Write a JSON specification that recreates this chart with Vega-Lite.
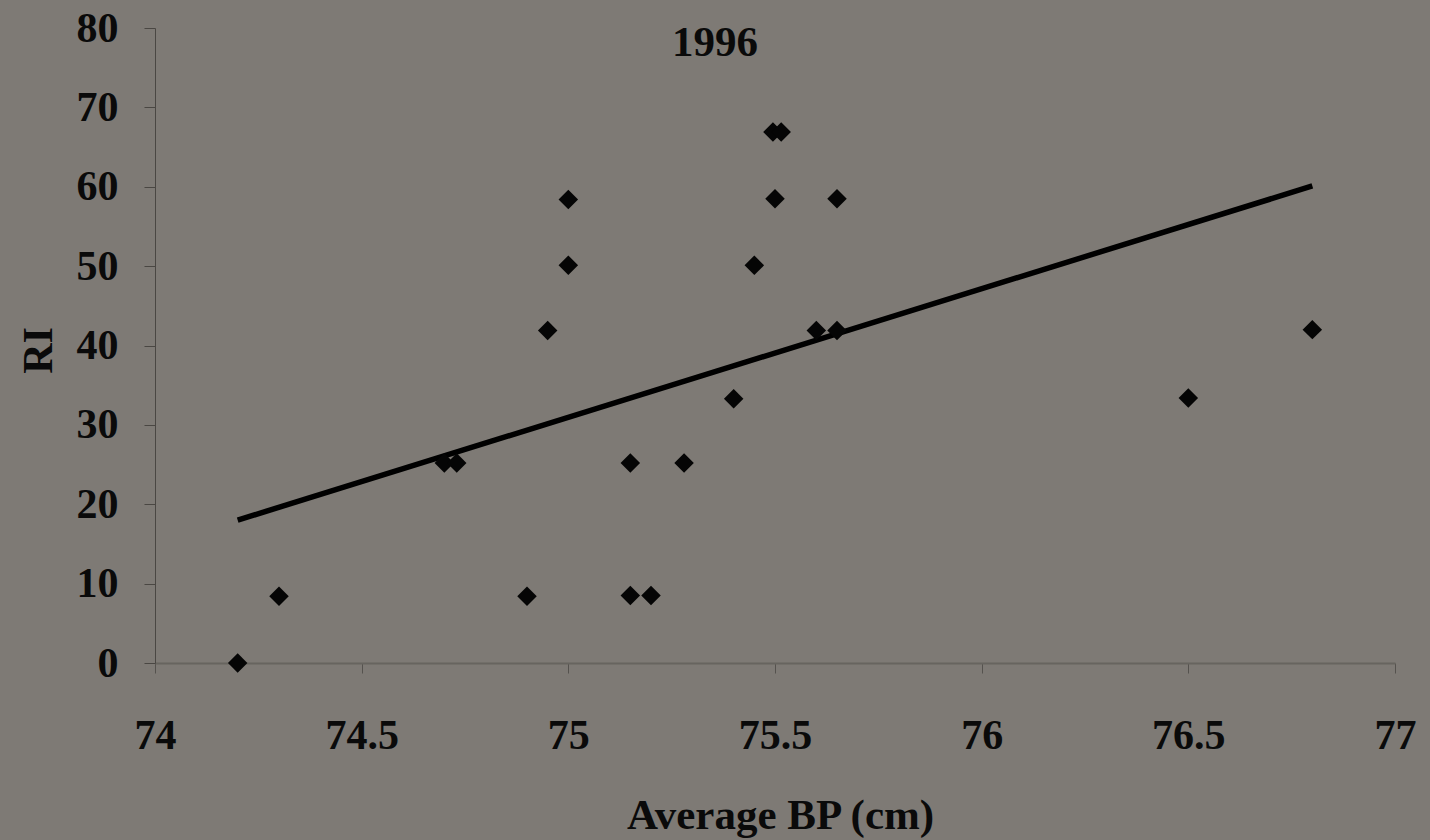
{
  "$schema": "https://vega.github.io/schema/vega-lite/v6.json",
  "width": 1240,
  "height": 635,
  "autosize": {"type": "none"},
  "padding": {"left": 155, "top": 28, "right": 35, "bottom": 177},
  "background": "#7e7a75",
  "config": {
    "view": {"stroke": null},
    "font": "Liberation Serif",
    "axis": {"grid": false}
  },
  "title": {
    "text": "1996",
    "font": "Liberation Serif",
    "fontSize": 43,
    "fontWeight": "bold",
    "color": "#0a0a0a",
    "anchor": "middle",
    "dx": -60,
    "offset": -58,
    "baseline": "top"
  },
  "datasets": {
    "points": [
      {"bp": 74.2, "ri": 0},
      {"bp": 74.3, "ri": 8.4},
      {"bp": 74.7, "ri": 25.2},
      {"bp": 74.73, "ri": 25.2},
      {"bp": 74.9, "ri": 8.4},
      {"bp": 74.95, "ri": 41.9},
      {"bp": 75.0, "ri": 58.4},
      {"bp": 75.0, "ri": 50.1},
      {"bp": 75.15, "ri": 25.2},
      {"bp": 75.15, "ri": 8.5},
      {"bp": 75.2, "ri": 8.5},
      {"bp": 75.28, "ri": 25.2},
      {"bp": 75.4, "ri": 33.3},
      {"bp": 75.45, "ri": 50.1},
      {"bp": 75.495, "ri": 66.9},
      {"bp": 75.515, "ri": 66.9},
      {"bp": 75.5, "ri": 58.5},
      {"bp": 75.6, "ri": 41.9},
      {"bp": 75.65, "ri": 41.9},
      {"bp": 75.65, "ri": 58.5},
      {"bp": 76.5, "ri": 33.4},
      {"bp": 76.8, "ri": 42.0}
    ],
    "trend": [
      {"bp": 74.2, "ri": 18.0},
      {"bp": 76.8, "ri": 60.1}
    ]
  },
  "layer": [
    {
      "data": {"name": "trend"},
      "mark": {"type": "line", "color": "#000000", "strokeWidth": 5.5},
      "encoding": {
        "x": {
          "field": "bp", "type": "quantitative",
          "scale": {"domain": [74, 77], "zero": false, "nice": false},
          "axis": {
            "values": [74, 74.5, 75, 75.5, 76, 76.5, 77],
            "format": "~g",
            "title": "Average BP (cm)",
            "titleFont": "Liberation Serif",
            "titleFontSize": 43,
            "titleFontWeight": "bold",
            "titleColor": "#0a0a0a",
            "titleX": 625,
            "titleY": 152,
            "titleBaseline": "middle",
            "titleAlign": "center",
            "labelFont": "Liberation Serif",
            "labelFontSize": 42,
            "labelFontWeight": "bold",
            "labelColor": "#0a0a0a",
            "labelBaseline": "middle",
            "labelPadding": 62,
            "labelFlush": false,
            "labelOverlap": false,
            "tickSize": 10,
            "tickColor": "#55524e",
            "domainColor": "#67645f",
            "domainWidth": 2
          }
        },
        "y": {
          "field": "ri", "type": "quantitative",
          "scale": {"domain": [0, 80], "nice": false},
          "axis": {
            "values": [0, 10, 20, 30, 40, 50, 60, 70, 80],
            "title": "RI",
            "titleFont": "Liberation Serif",
            "titleFontSize": 42,
            "titleFontWeight": "bold",
            "titleColor": "#0a0a0a",
            "titleX": -117,
            "titleY": 322,
            "titleAngle": 270,
            "titleBaseline": "middle",
            "titleAlign": "center",
            "labelFont": "Liberation Serif",
            "labelFontSize": 42,
            "labelFontWeight": "bold",
            "labelColor": "#0a0a0a",
            "labelPadding": 26,
            "labelFlush": false,
            "labelOverlap": false,
            "tickSize": 11,
            "tickColor": "#4a4743",
            "domainColor": "#4a4743",
            "domainWidth": 1
          }
        }
      }
    },
    {
      "data": {"name": "points"},
      "mark": {"type": "point", "shape": "diamond", "filled": true, "color": "#050505", "size": 380, "opacity": 1},
      "encoding": {
        "x": {"field": "bp", "type": "quantitative"},
        "y": {"field": "ri", "type": "quantitative"}
      }
    }
  ]
}
